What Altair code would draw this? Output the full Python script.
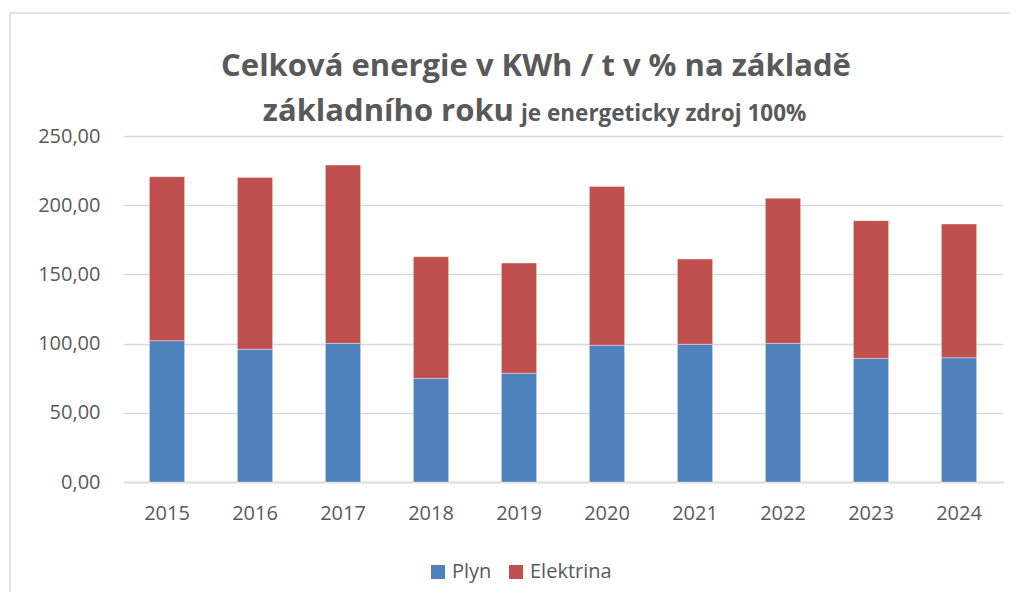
import altair as alt
import pandas as pd

years = ["2015", "2016", "2017", "2018", "2019", "2020", "2021", "2022", "2023", "2024"]
plyn = [102.1, 95.9, 100.2, 74.9, 78.5, 98.8, 99.5, 100.2, 89.4, 89.8]
elektrina = [118.5, 124.2, 128.8, 87.9, 79.7, 114.8, 61.6, 104.8, 99.4, 96.6]
series = ["Plyn", "Elektrina"]
colors = ["#4F81BD", "#C0504D"]

title1 = "Celková energie v KWh / t v % na základě"
title2a = "základního roku"
title2b = "je energeticky zdroj 100%"

rows = []
for i, y in enumerate(years):
    rows.append({"rok": y, "zdroj": "Plyn", "hodnota": plyn[i], "poradi": 0})
    rows.append({"rok": y, "zdroj": "Elektrina", "hodnota": elektrina[i], "poradi": 1})
df = pd.DataFrame(rows)

FONT = "Open Sans"
GRAY = "#595959"
LS = 20

bars = alt.Chart(df).mark_bar(stroke="white", strokeWidth=0.6, strokeOpacity=0.6).encode(
    x=alt.X("rok:N", sort=years, title=None,
            scale=alt.Scale(paddingInner=0.6, paddingOuter=0.3),
            axis=alt.Axis(labelAngle=0, labelFontSize=LS, labelColor=GRAY, labelFont=FONT,
                          ticks=False, domainColor="#d9d9d9", domainWidth=1.5,
                          labelPadding=21, grid=False)),
    y=alt.Y("hodnota:Q", stack="zero", title=None,
            scale=alt.Scale(domain=[0, 250], nice=False),
            axis=alt.Axis(values=[0, 50, 100, 150, 200, 250], ticks=False, domain=False,
                          gridColor="#d9d9d9", gridWidth=1.5,
                          labelFontSize=LS, labelColor=GRAY, labelFont=FONT, labelPadding=23,
                          labelExpr="replace(format(datum.value, '.2f'), '.', ',')")),
    color=alt.Color("zdroj:N", scale=alt.Scale(domain=series, range=colors), title=None,
                    legend=alt.Legend(orient="none", legendX=305, legendY=426, direction="horizontal",
                                      symbolType="square", symbolSize=196, symbolStrokeWidth=0,
                                      labelFontSize=LS, labelFont=FONT, labelColor=GRAY,
                                      labelOffset=4, columnPadding=14, padding=0)),
    order=alt.Order("poradi:Q", sort="ascending"),
)

t1 = alt.Chart(pd.DataFrame({"t": [title1]})).mark_text(
    fontSize=31, fontWeight="bold", font=FONT, color=GRAY, align="center", baseline="alphabetic"
).encode(text="t:N", x=alt.value(413), y=alt.value(-60))

t2a = alt.Chart(pd.DataFrame({"t": [title2a]})).mark_text(
    fontSize=31, fontWeight="bold", font=FONT, color=GRAY, align="right", baseline="alphabetic"
).encode(text="t:N", x=alt.value(391), y=alt.value(-15))

t2b = alt.Chart(pd.DataFrame({"t": [title2b]})).mark_text(
    fontSize=22.5, fontWeight="bold", font=FONT, color=GRAY, align="left", baseline="alphabetic"
).encode(text="t:N", x=alt.value(398), y=alt.value(-15))

border_top = alt.Chart(pd.DataFrame({"a": [0]})).mark_rule(color="#d9d9d9", strokeWidth=1.5).encode(
    x=alt.value(-113), x2=alt.value(886), y=alt.value(-123))
border_left = alt.Chart(pd.DataFrame({"a": [0]})).mark_rule(color="#d9d9d9", strokeWidth=1.5).encode(
    x=alt.value(-113), y=alt.value(-123), y2=alt.value(456))

chart = alt.layer(border_top, border_left, bars, t1, t2a, t2b).properties(
    width=880, height=346,
    autosize=alt.AutoSizeParams(type="none"),
    padding={"left": 115, "top": 128, "right": 6, "bottom": 110},
    background="white",
).configure_view(stroke=None)

chart.save("out.html", embed_options={"renderer": "svg", "actions": False})
